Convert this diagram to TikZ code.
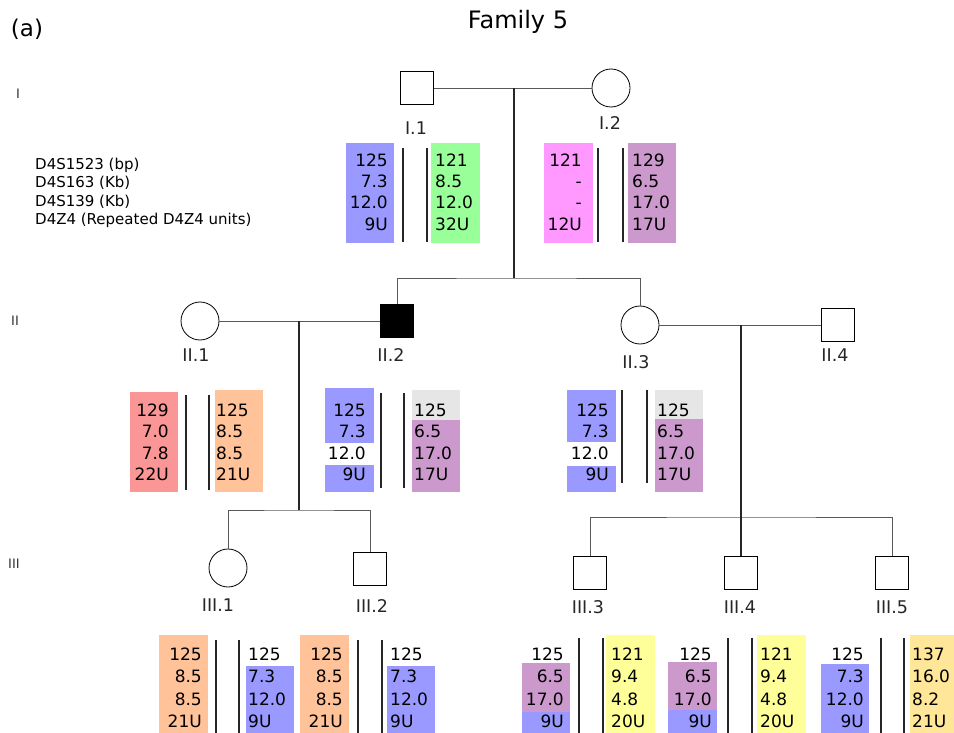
\documentclass[tikz,border=0pt]{standalone}
\usepackage{fontspec}
\setmainfont{DejaVu Sans}
\usepackage{tikz}
\usetikzlibrary{positioning}
\definecolor{hblue}{RGB}{153,153,255}
\definecolor{hgreen}{RGB}{153,255,153}
\definecolor{hpink}{RGB}{255,153,255}
\definecolor{hpurple}{RGB}{204,153,204}
\definecolor{hred}{RGB}{250,150,150}
\definecolor{horange}{RGB}{255,194,153}
\definecolor{hgrey}{RGB}{230,230,230}
\definecolor{hyellow}{RGB}{255,255,153}
\definecolor{hgold}{RGB}{255,230,153}
\tikzset{
  male/.style={draw=black,line width=0.8pt,minimum size=33pt,inner sep=0pt},
  affmale/.style={male,fill=black},
  female/.style={circle,draw=black,line width=0.8pt,minimum size=38pt,inner sep=0pt},
  ped/.style={line width=0.9pt,black!65},
  descent/.style={line width=1.3pt,black!85},
  idlbl/.style={font=\fontsize{17.5}{20}\selectfont,inner sep=0pt,text=black!85},
  genlbl/.style={font=\fontsize{13}{15}\selectfont,inner sep=0pt,text=black!80},
  legtxt/.style={font=\fontsize{15}{17}\selectfont,inner sep=0pt,anchor=west,
    text height=10.8pt,text depth=0pt},
  hapt/.style={font=\fontsize{17}{20}\selectfont,inner sep=0pt,
    text height=12.4pt,text depth=0pt},
  hapbar/.style={line width=1.4pt,black!85},
}
% one column of alleles: name, x, first row, row step, anchor, values
\newcommand\hapcol[6]{%
  \foreach \t [count=\k from 0] in {#6} {\node[hapt,anchor=#5] (#1-\k) at (#2,{#3+#4*\k}) {\t};}}
% the two chromosome bars of one person
\newcommand\hapbars[4]{\draw[hapbar] (#1,#3) -- (#1,#4) (#2,#3) -- (#2,#4);}

\begin{document}
\begin{tikzpicture}[x=1pt,y=-1pt]
  \useasboundingbox (0,0) rectangle (954,733);
  \node[font=\fontsize{23}{26}\selectfont] (tag) at (27,29) {(a)};
  \node[font=\fontsize{24}{28}\selectfont] (title) at (518,22) {Family 5};
  \node[genlbl] (gI) at (18,94) {I};
  \node[genlbl] (gII) at (15,321) {II};
  \node[genlbl] (gIII) at (14,564) {III};
  \foreach \t [count=\k from 0] in {D4S1523 (bp),D4S163 (Kb),D4S139 (Kb),D4Z4 (Repeated D4Z4 units)}
    \node[legtxt] (leg-\k) at (35,{164+18.5*\k}) {\t};

  % generation I
  \node[male] (I1) at (417,88) {};
  \node[female] (I2) at (611,88) {};
  \node[idlbl] (I1l) at (416,128) {I.1};
  \node[idlbl] (I2l) at (610,123) {I.2};
  \coordinate (m1) at (514,88);
  \coordinate (s1) at (514,278);
  \draw[ped] (I1) -- (I2);
  \draw[descent] (m1) -- (s1);

  % generation II
  \node[female] (II1) at (200,321) {};
  \node[affmale] (II2) at (397,321) {};
  \node[female] (II3) at (640,325) {};
  \node[male] (II4) at (838,325) {};
  \node[idlbl] (II1l) at (196,355) {II.1};
  \node[idlbl] (II2l) at (391,355) {II.2};
  \node[idlbl] (II3l) at (636,362) {II.3};
  \node[idlbl] (II4l) at (835,355) {II.4};
  \draw[ped] (II2.north) |- (s1) -| (II3.north);
  \draw[ped] (II1) -- (II2);
  \draw[ped] (II3) -- (II4);
  \coordinate (m2) at (299,321);
  \coordinate (s2) at (299,510);
  \coordinate (m3) at (741,325);
  \coordinate (s3) at (741,517);
  \draw[descent] (m2) -- (s2);

  % generation III
  \node[female] (III1) at (228,568) {};
  \node[male] (III2) at (370,569) {};
  \node[male] (III3) at (590,573) {};
  \node[male] (III4) at (741,573) {};
  \node[male] (III5) at (892,573) {};
  \node[idlbl] (III1l) at (218,605) {III.1};
  \node[idlbl] (III2l) at (372,606) {III.2};
  \node[idlbl] (III3l) at (588,607) {III.3};
  \node[idlbl] (III4l) at (740,607) {III.4};
  \node[idlbl] (III5l) at (892,607) {III.5};
  \draw[ped] (III1.north) |- (s2) -| (III2.north);
  \draw[ped] (III3.north) |- (s3) -| (III5.north);
  \draw[descent] (m3) -- (III4.north);

  % haplotypes, generation I
  \fill[hblue] (346,143) rectangle (394,243);
  \fill[hgreen] (431,143) rectangle (480,243);
  \fill[hpink] (544,143) rectangle (593,243);
  \fill[hpurple] (628,143) rectangle (676,243);
  \hapcol{hI1a}{388}{160}{21.3}{east}{125,7.3,12.0,9U}
  \hapcol{hI1b}{435}{160}{21.3}{west}{121,8.5,12.0,32U}
  \hapcol{hI2a}{582}{160}{21.3}{east}{121,-,-,12U}
  \hapcol{hI2b}{632}{160}{21.3}{west}{129,6.5,17.0,17U}
  \hapbars{403}{427}{148}{242}
  \hapbars{598}{623}{148}{242}

  % haplotypes, generation II
  \fill[hred] (130,392) rectangle (178,492);
  \fill[horange] (215,390) rectangle (263,492);
  \fill[hblue] (325,388) rectangle (374,443);
  \fill[hblue] (325,465) rectangle (374,492);
  \fill[hgrey] (412,390) rectangle (460,420);
  \fill[hpurple] (412,420) rectangle (460,492);
  \fill[hblue] (567,390) rectangle (616,442);
  \fill[hblue] (567,466) rectangle (616,492);
  \fill[hgrey] (655,390) rectangle (703,419);
  \fill[hpurple] (655,419) rectangle (703,492);
  \hapcol{hII1a}{169}{410}{21.5}{east}{129,7.0,7.8,22U}
  \hapcol{hII1b}{216}{410}{21.5}{west}{125,8.5,8.5,21U}
  \hapcol{hII2a}{366}{410}{21.5}{east}{125,7.3,12.0,9U}
  \hapcol{hII2b}{414}{410}{21.5}{west}{125,6.5,17.0,17U}
  \hapcol{hII3a}{609}{410}{21.5}{east}{125,7.3,12.0,9U}
  \hapcol{hII3b}{657}{410}{21.5}{west}{125,6.5,17.0,17U}
  \hapbars{186}{209}{395}{490}
  \hapbars{381}{404}{393}{488}
  \hapbars{622}{647}{390}{483}

  % haplotypes, generation III
  \fill[horange] (159,635) rectangle (208,733);
  \fill[hblue] (246,666) rectangle (294,733);
  \fill[horange] (300,635) rectangle (349,733);
  \fill[hblue] (387,666) rectangle (435,733);
  \fill[hpurple] (522,663) rectangle (570,712);
  \fill[hblue] (522,712) rectangle (570,733);
  \fill[hyellow] (606,635) rectangle (655,733);
  \fill[hpurple] (668,662) rectangle (717,710);
  \fill[hblue] (668,710) rectangle (717,733);
  \fill[hyellow] (757,635) rectangle (806,733);
  \fill[hblue] (821,664) rectangle (869,733);
  \fill[hgold] (910,635) rectangle (954,733);
  \hapcol{hIII1a}{202}{654}{22.5}{east}{125,8.5,8.5,21U}
  \hapcol{hIII1b}{248}{654}{22.5}{west}{125,7.3,12.0,9U}
  \hapcol{hIII2a}{343}{654}{22.5}{east}{125,8.5,8.5,21U}
  \hapcol{hIII2b}{390}{654}{22.5}{west}{125,7.3,12.0,9U}
  \hapcol{hIII3a}{564}{654}{22.5}{east}{125,6.5,17.0,9U}
  \hapcol{hIII3b}{611}{654}{22.5}{west}{121,9.4,4.8,20U}
  \hapcol{hIII4a}{712}{654}{22.5}{east}{125,6.5,17.0,9U}
  \hapcol{hIII4b}{760}{654}{22.5}{west}{121,9.4,4.8,20U}
  \hapcol{hIII5a}{864}{654}{22.5}{east}{125,7.3,12.0,9U}
  \hapcol{hIII5b}{912}{654}{22.5}{west}{137,16.0,8.2,21U}
  \hapbars{216}{239}{640}{733}
  \hapbars{358}{382}{640}{733}
  \hapbars{579}{603}{638}{733}
  \hapbars{728}{752}{638}{733}
  \hapbars{881}{904}{638}{733}
\end{tikzpicture}
\end{document}
